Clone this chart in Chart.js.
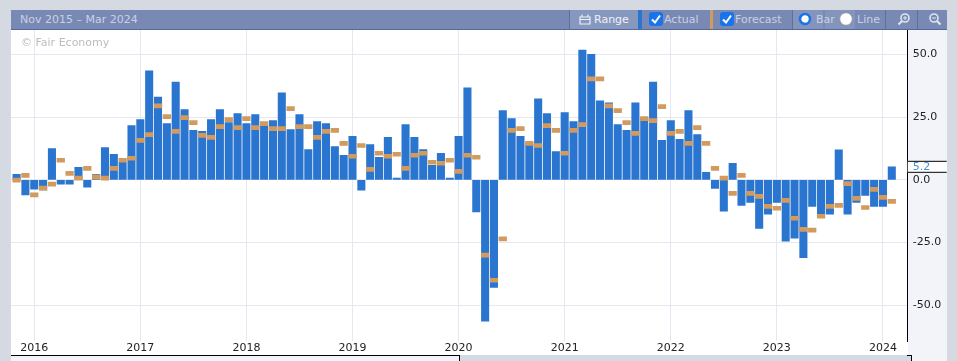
<!DOCTYPE html>
<html>
<head>
<meta charset="utf-8">
<script src="https://cdn.jsdelivr.net/npm/chart.js@4/dist/chart.umd.min.js"></script>
<style>
html, body { margin: 0; padding: 0; background: #d5d9e2; overflow: hidden; }
body { width: 957px; height: 361px; position: relative; font-family: "DejaVu Sans", sans-serif; }
.box { position: absolute; }
#bar { left: 11px; top: 10px; width: 936px; height: 19px; background: #7889b4; border-bottom: 1px solid #57689b; color: #c9d1e4; font-size: 11px; line-height: 19px; }
#bar span, #bar svg, #bar i { position: absolute; }
#bar span { top: 0; white-space: nowrap; }
#bar i { top: 0; width: 1px; height: 19px; background: #5c6f9f; }
#bar svg { top: 2px; }
#range { position: absolute; left: 559px; top: 0; width: 69px; height: 19px; background: #8798bf; }
#zoomin { position: absolute; left: 782px; top: 0; width: 30px; height: 19px; background: #8495bd; }
#zoomout { position: absolute; left: 814px; top: 0; width: 30px; height: 19px; background: #8495bd; }
#wm { left: 21px; top: 36px; font-size: 11px; line-height: 14px; color: #bcbcbc; }
canvas { position: absolute; left: 0; top: 0; }
</style>
</head>
<body>
<div class="box" style="left:11px;top:30px;width:897px;height:325px;background:#fff"></div>
<div class="box" style="left:908px;top:30px;width:39px;height:331px;background:#f3f4f9"></div>
<div class="box" style="left:11px;top:355px;width:448px;height:6px;background:#f3f4f9"></div>
<div class="box" style="left:459px;top:355px;width:453px;height:6px;background:#d5d9e2"></div>
<div class="box" style="left:11px;top:355px;width:449px;height:1px;background:#000"></div>
<div class="box" style="left:459px;top:355px;width:1px;height:6px;background:#000"></div>
<div class="box" style="left:907px;top:355px;width:5px;height:1px;background:#000"></div>
<div class="box" style="left:911px;top:355px;width:1px;height:6px;background:#000"></div>
<div class="box" id="bar">
	<span style="left:9px">Nov 2015 – Mar 2024</span>
	<div id="range"></div>
	<div id="zoomin"></div>
	<div id="zoomout"></div>
	<i style="left:558px"></i>
	<svg style="left:568px;top:3px" width="12" height="12" viewBox="0 0 12 12"><path d="M1 4h10v7H1zM1 6.5h10M3 1.5v2.5M9 1.5v2.5" fill="none" stroke="#eef1f8" stroke-width="1.2"/></svg>
	<span style="left:583px;color:#eef1f8">Range</span>
	<i style="left:627px;width:4px;background:#2a75cf"></i>
	<svg style="left:638px" width="14" height="14" viewBox="0 0 14 14"><rect width="14" height="14" rx="3" fill="#1a73e8"/><path d="M3 7.5l3 3 5-7" fill="none" stroke="#fff" stroke-width="2"/></svg>
	<span style="left:653px">Actual</span>
	<i style="left:699px;width:3px;background:#d29a5c"></i>
	<svg style="left:709px" width="14" height="14" viewBox="0 0 14 14"><rect width="14" height="14" rx="3" fill="#1a73e8"/><path d="M3 7.5l3 3 5-7" fill="none" stroke="#fff" stroke-width="2"/></svg>
	<span style="left:724px">Forecast</span>
	<i style="left:781px"></i>
	<svg style="left:787px" width="14" height="14" viewBox="0 0 14 14"><circle cx="7" cy="7" r="5" fill="#fff" stroke="#1a73e8" stroke-width="2.6"/></svg>
	<span style="left:805px">Bar</span>
	<svg style="left:828px" width="14" height="14" viewBox="0 0 14 14"><circle cx="7" cy="7" r="6.3" fill="#fff" stroke="#8c8c8c" stroke-width="0.8"/></svg>
	<span style="left:846px">Line</span>
	<i style="left:874px"></i>
	<i style="left:906px"></i>
	<svg style="left:886px" width="14" height="14" viewBox="0 0 14 14"><circle cx="8" cy="6" r="4" fill="none" stroke="#dfe4f0" stroke-width="1.6"/><path d="M5 9L1.5 12.5" stroke="#dfe4f0" stroke-width="2.2"/><path d="M6 6h4M8 4v4" stroke="#dfe4f0"/></svg>
	<svg style="left:917px" width="14" height="14" viewBox="0 0 14 14"><circle cx="6" cy="6" r="4" fill="none" stroke="#dfe4f0" stroke-width="1.6"/><path d="M9 9l3.5 3.5" stroke="#dfe4f0" stroke-width="2.2"/><path d="M4 6h4" stroke="#dfe4f0"/></svg>
</div>
<canvas id="chart" width="957" height="361"></canvas>
<div class="box" id="wm">© Fair Economy</div>
<script>
// one entry a month, Nov 2015 to Feb 2024 (last bar sits just after the 2024 gridline)
const actual = [
	2.2, -6, -3.7, -4, 12.5, -1.7, -1.7, 5, -2.9, 2.2,
	12.9, 10.2, 7, 21.6, 24, 43.4, 33, 22.4, 39, 28,
	19.7, 19.3, 24, 28, 22.8, 26.4, 22.4, 26, 21.6, 23.6,
	34.7, 20, 26, 12.1, 23.2, 22.4, 13.3, 9.8, 17.3, -4.1,
	14.1, 9, 16.9, 0.7, 22, 16.9, 12.1, 5.8, 10.6, 0.7,
	17.3, 36.7, -12.8, -56.3, -42.9, 27.6, 24.4, 17.3, 14.5, 32.3,
	26.4, 11.3, 26.8, 23.2, 51.7, 50, 31.5, 30.7, 22, 19.7,
	30.7, 24.4, 39, 15.7, 23.6, 16.1, 27.6, 18, 3, -3.4,
	-12.5, 6.6, -10.2, -9, -19.3, -13.7, -9, -24.4, -23.2, -31,
	-10.6, -13.7, -13.7, 12, -13.7, -9, -6.2, -10.6, -10.6, 5.2,
];
const forecast = [
	-0.1, 1.8, -6, -3.3, -1.7, 7.8, 2.6, 0.7, 4.6, 1.2,
	0.7, 4.6, 7.8, 8.6, 15.7, 18, 29.5, 25.2, 19.3, 24.8,
	22.8, 17.7, 16.9, 21.2, 24, 20.8, 24.4, 20.8, 22.4, 20.4,
	20.4, 28.4, 21.2, 21.2, 16.9, 19.3, 19.7, 14.5, 9.4, 13.7,
	4.2, 10.6, 9.4, 10.2, 4.6, 9.8, 10.6, 7, 6.6, 7.8,
	3.4, 9.8, 9, -30, -40, -23.5, 19.7, 20.4, 14.5, 13.7,
	21.6, 19.7, 10.6, 19.7, 22, 40.2, 40.2, 29.5, 27.6, 22.8,
	18.5, 24.4, 23.6, 29.2, 18.5, 19.3, 14.5, 20.8, 14.5, 4.6,
	0.7, -5.4, 1.8, -5.4, -6.6, -10.6, -11.3, -8.2, -15.3, -19.7,
	-20, -14.5, -10.6, -10.2, -1.5, -7.4, -11, -3.8, -7, -8.6,
];
const years = ['2016', '2017', '2018', '2019', '2020', '2021', '2022', '2023', '2024'];
const yTicks = [50, 25, 0, -25, -50];
const lastValue = '5.2';

const blue = '#2a75cf';
const orange = '#d29a5c';
const gridColor = '#e6e7f0';
const dashHalf = 0.8;

// the last-value tag on the right axis
const lastTag = {
	id: 'lastTag',
	afterDraw(chart) {
		const { ctx, scales: { y } } = chart;
		const py = y.getPixelForValue(actual[actual.length - 1]);
		const left = chart.chartArea.right;
		ctx.save();
		ctx.fillStyle = '#fff';
		ctx.fillRect(left, py - 6, 39, 12);
		ctx.fillStyle = '#000';
		ctx.fillRect(left, py - 6, 39, 1);
		ctx.fillRect(left, py + 5, 39, 1);
		ctx.fillStyle = '#4a90d9';
		ctx.font = '11px "DejaVu Sans"';
		ctx.textBaseline = 'middle';
		ctx.fillText(lastValue, left + 5, py);
		ctx.restore();
	},
};

new Chart(document.getElementById('chart').getContext('2d'), {
	type: 'bar',
	data: {
		datasets: [
			{
				label: 'Forecast',
				data: forecast.map((v, i) => ({ x: i, y: [v - dashHalf, v + dashHalf] })),
				backgroundColor: orange,
				barThickness: 7.6,
				grouped: false,
				order: 1,
			},
			{
				label: 'Actual',
				data: actual.map((v, i) => ({ x: i, y: v })),
				backgroundColor: blue,
				barThickness: 7.4,
				grouped: false,
				order: 2,
			},
		],
	},
	options: {
		responsive: false,
		animation: false,
		events: [],
		layout: { padding: { left: 11, top: 30, right: 10, bottom: 6 } },
		plugins: { legend: { display: false }, tooltip: { enabled: false } },
		scales: {
			x: {
				type: 'linear',
				offset: false,
				min: -0.63,
				max: 100.8,
				afterBuildTicks: axis => { axis.ticks = years.map((y, i) => ({ value: 2 + i * 12 })); },
				afterFit: axis => { axis.height = 14; },
				grid: { color: gridColor, tickLength: 0, offset: false },
				border: { display: false },
				ticks: {
					autoSkip: false,
					maxRotation: 0,
					padding: 1,
					color: '#222',
					font: { family: 'DejaVu Sans', size: 11 },
					callback: (v) => years[(v - 2) / 12],
				},
			},
			y: {
				position: 'right',
				min: -64.2,
				max: 59.7,
				afterBuildTicks: axis => { axis.ticks = yTicks.map(v => ({ value: v })); },
				afterFit: axis => { axis.width = 39.3; },
				grid: { color: gridColor, tickLength: 0 },
				border: { display: true, color: '#000' },
				ticks: {
					padding: 5,
					color: '#222',
					crossAlign: 'near',
					font: { family: 'DejaVu Sans', size: 11 },
					callback: v => v.toFixed(1),
				},
			},
		},
	},
	plugins: [lastTag],
});
</script>
</body>
</html>
